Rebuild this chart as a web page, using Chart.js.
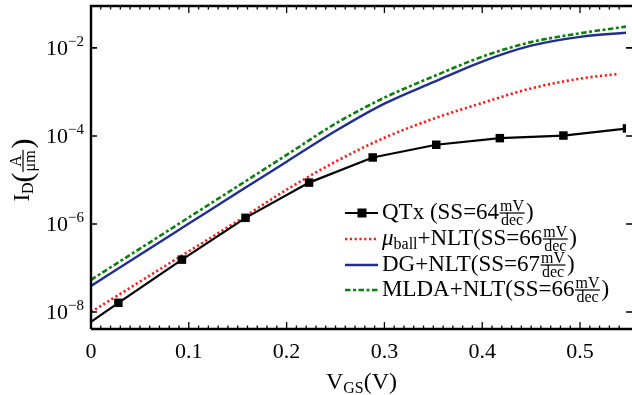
<!DOCTYPE html>
<html>
<head>
<meta charset="utf-8">
<script src="https://cdn.jsdelivr.net/npm/chart.js@4.4.0/dist/chart.umd.min.js"></script>
<style>
  html, body { margin: 0; padding: 0; background: #fff; }
</style>
</head>
<body>
<canvas id="grafic" width="632" height="395"></canvas>
<script>
// gate voltage samples (V) and drain currents (A/um)
const qtxVgs = [0, 0.028, 0.093, 0.158, 0.223, 0.288, 0.353, 0.418, 0.483, 0.548];
const qtxId  = [6.0e-9, 1.62e-8, 1.55e-7, 1.38e-6, 8.7e-6, 3.24e-5, 6.3e-5, 8.9e-5, 1.02e-4, 1.48e-4];
const qtxMarker = [0, 1, 1, 1, 1, 1, 1, 1, 1, 1];

const ballVgs = [0, 0.05, 0.1, 0.15, 0.2, 0.25, 0.3, 0.35, 0.4, 0.45, 0.5, 0.54];
const ballId  = [1.0e-8, 4.9e-8, 2.4e-7, 1.17e-6, 6.0e-6, 2.6e-5, 9.1e-5, 2.45e-4, 5.6e-4, 1.2e-3, 2.0e-3, 2.57e-3];

const vgs    = [0, 0.05, 0.1, 0.15, 0.2, 0.25, 0.3, 0.35, 0.4, 0.45, 0.5, 0.55];
const dgId   = [3.9e-8, 2.0e-7, 1.02e-6, 5.2e-6, 2.6e-5, 1.29e-4, 5.4e-4, 1.66e-3, 4.9e-3, 1.12e-2, 1.78e-2, 2.24e-2];
const mldaId = [5.4e-8, 2.75e-7, 1.41e-6, 7.2e-6, 3.7e-5, 1.9e-4, 7.4e-4, 2.24e-3, 6.3e-3, 1.35e-2, 2.14e-2, 3.1e-2];

const ssValues = [64, 66, 67, 66];
const xTicks = [0, 0.1, 0.2, 0.3, 0.4, 0.5];
const xTickLabels = ['0', '0.1', '0.2', '0.3', '0.4', '0.5'];
const yTicks = [1e-8, 1e-6, 1e-4, 1e-2];
const yTickExp = ['\u22128', '\u22126', '\u22124', '\u22122'];

const FONT = '"Liberation Serif", "DejaVu Serif", serif';
const BLACK = '#000000';
const RED = '#ff1a1a';
const BLUE = '#1f2f8f';
const GREEN = '#0b800b';
const GREEN_DASH = [5.5, 2.5, 3, 2.5];

const pts = (xs, ys) => xs.map((x, i) => ({ x: x, y: ys[i] }));

// draws a row of text pieces, plain runs or small fractions; returns end x
function textRun(ctx, x, y, parts, draw) {
  for (const p of parts) {
    if (p.num) {
      ctx.font = p.s + 'px ' + FONT;
      const w = Math.max(ctx.measureText(p.num).width, ctx.measureText(p.den).width) + 2;
      if (draw) {
        const ax = y - 6;
        ctx.textAlign = 'center';
        ctx.fillText(p.num, x + w / 2, ax - 2);
        ctx.fillText(p.den, x + w / 2, ax + p.s * 0.72);
        ctx.fillRect(x + 0.5, ax - 0.6, w - 1, 1.2);
        ctx.textAlign = 'left';
      }
      x += w + 1;
    } else {
      ctx.font = (p.it ? 'italic ' : '') + p.s + 'px ' + FONT;
      if (draw) ctx.fillText(p.t, x, y + (p.dy || 0));
      x += ctx.measureText(p.t).width;
    }
  }
  return x;
}

const frac = { num: 'mV', den: 'dec', s: 16 };
const legendRows = [
  { color: BLACK, dash: [], w: 2.2, marker: true,
    parts: [{ t: 'QTx (SS=' + ssValues[0], s: 23 }, frac, { t: ')', s: 23 }] },
  { color: RED, dash: [2.2, 2.6], w: 2.6,
    parts: [{ t: '\u03bc', s: 23, it: true }, { t: 'ball', s: 16, dy: 4 },
            { t: '+NLT(SS=' + ssValues[1], s: 23 }, frac, { t: ')', s: 23 }] },
  { color: BLUE, dash: [], w: 2.4,
    parts: [{ t: 'DG+NLT(SS=' + ssValues[2], s: 23 }, frac, { t: ')', s: 23 }] },
  { color: GREEN, dash: GREEN_DASH, w: 2.6,
    parts: [{ t: 'MLDA+NLT(SS=' + ssValues[3], s: 23 }, frac, { t: ')', s: 23 }] }
];

const framePlugin = {
  id: 'frame',
  afterDraw(chart) {
    const ctx = chart.ctx;
    const a = chart.chartArea;
    const xs = chart.scales.x;
    const ys = chart.scales.y;
    ctx.save();
    ctx.strokeStyle = BLACK;
    ctx.fillStyle = BLACK;
    ctx.lineWidth = 2.4;
    ctx.beginPath();
    ctx.moveTo(a.left, a.bottom);
    ctx.lineTo(a.left, a.top);
    ctx.lineTo(632, a.top);
    ctx.moveTo(a.left, a.bottom);
    ctx.lineTo(632, a.bottom);
    ctx.stroke();

    // x ticks, top and bottom, pointing in
    ctx.lineWidth = 1.3;
    ctx.beginPath();
    for (let i = 0; i <= 54; i++) {
      const px = xs.getPixelForValue(i / 100);
      const len = i % 10 === 0 ? 7 : 3.5;
      ctx.moveTo(px, a.bottom);
      ctx.lineTo(px, a.bottom - len);
      ctx.moveTo(px, a.top);
      ctx.lineTo(px, a.top + len);
    }
    ctx.stroke();
    ctx.lineWidth = 1.6;
    ctx.beginPath();
    yTicks.forEach(v => {
      const py = ys.getPixelForValue(v);
      ctx.moveTo(a.left, py);
      ctx.lineTo(a.left + 6, py);
      ctx.moveTo(632, py);
      ctx.lineTo(626, py);
    });
    ctx.stroke();

    // tick labels
    ctx.textBaseline = 'alphabetic';
    ctx.font = '22px ' + FONT;
    ctx.textAlign = 'center';
    xTicks.forEach((v, i) => {
      ctx.fillText(xTickLabels[i], xs.getPixelForValue(v), 358);
    });
    ctx.textAlign = 'left';
    yTicks.forEach((v, i) => {
      const py = ys.getPixelForValue(v);
      const parts = [{ t: '10', s: 22 }, { t: yTickExp[i], s: 15, dy: -9 }];
      const w = textRun(ctx, 0, 0, parts, false);
      textRun(ctx, 84 - w, py + 7, parts, true);
    });

    // axis titles
    const xt = [{ t: 'V', s: 24 }, { t: 'GS', s: 16, dy: 4 }, { t: '(V)', s: 24 }];
    const xw = textRun(ctx, 0, 0, xt, false);
    textRun(ctx, (a.left + 632) / 2 - xw / 2, 389, xt, true);

    const yt = [{ t: 'I', s: 23 }, { t: 'D', s: 16, dy: 4 }, { t: '(', s: 30, dy: 3 },
                { num: 'A', den: '\u03bcm', s: 16 }, { t: ')', s: 30, dy: 3 }];
    const yw = textRun(ctx, 0, 0, yt, false);
    ctx.save();
    ctx.translate(29, 170);
    ctx.rotate(-Math.PI / 2);
    textRun(ctx, -yw / 2, 0, yt, true);
    ctx.restore();

    // legend
    const rowY = [213, 239, 265, 290];
    legendRows.forEach((r, i) => {
      const y = rowY[i];
      ctx.strokeStyle = r.color;
      ctx.lineWidth = r.w;
      ctx.setLineDash(r.dash);
      ctx.beginPath();
      ctx.moveTo(345, y);
      ctx.lineTo(378, y);
      ctx.stroke();
      ctx.setLineDash([]);
      if (r.marker) ctx.fillRect(357.5, y - 4.5, 9, 9);
      ctx.fillStyle = BLACK;
      textRun(ctx, 382, y + 6, r.parts, true);
    });
    ctx.restore();
  }
};

new Chart(document.getElementById('grafic'), {
  type: 'line',
  data: {
    datasets: [
      {
        label: 'QTx',
        data: pts(qtxVgs, qtxId),
        borderColor: BLACK,
        backgroundColor: BLACK,
        borderWidth: 2.2,
        pointStyle: 'rect',
        pointRadius: qtxMarker.map(m => m * 6),
        pointBorderWidth: 0,
        tension: 0
      },
      {
        label: 'ball',
        data: pts(ballVgs, ballId),
        borderColor: RED,
        borderWidth: 2.6,
        borderDash: [2.2, 2.6],
        pointRadius: 0,
        cubicInterpolationMode: 'monotone'
      },
      {
        label: 'DG',
        data: pts(vgs, dgId),
        borderColor: BLUE,
        borderWidth: 2.4,
        pointRadius: 0,
        cubicInterpolationMode: 'monotone'
      },
      {
        label: 'MLDA',
        data: pts(vgs, mldaId),
        borderColor: GREEN,
        borderWidth: 2.6,
        borderDash: GREEN_DASH,
        pointRadius: 0,
        cubicInterpolationMode: 'monotone'
      }
    ]
  },
  options: {
    responsive: false,
    devicePixelRatio: 1,
    animation: false,
    layout: { padding: { left: 91, right: 0, top: 5, bottom: 66 } },
    scales: {
      x: { type: 'linear', min: 0, max: 0.547, display: false },
      y: { type: 'logarithmic', min: 4.12e-9, max: 0.0893, display: false }
    },
    plugins: { legend: { display: false }, tooltip: { enabled: false } }
  },
  plugins: [framePlugin]
});
</script>
</body>
</html>
